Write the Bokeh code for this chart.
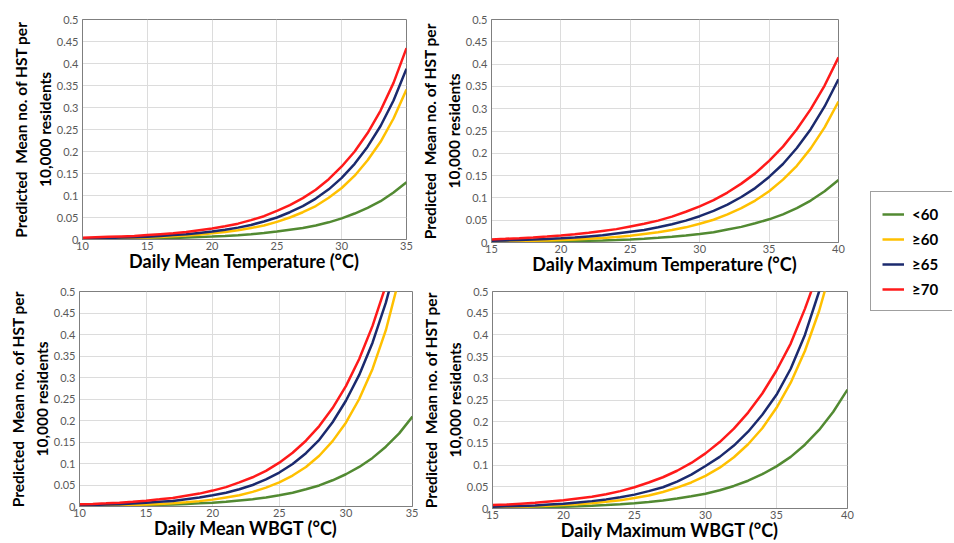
from bokeh.plotting import figure
from bokeh.layouts import row, column
from bokeh.models import Range1d, NumeralTickFormatter, FixedTicker, Legend, LegendItem
from bokeh.embed import file_html
from bokeh.resources import INLINE

# ---------------- data ----------------
series_names = ["<60", "\u226560", "\u226565", "\u226570"]
series_colors = ["#528A32", "#FFC000", "#1B2A6E", "#FF1A1A"]

y_ticks = [0, 0.05, 0.1, 0.15, 0.2, 0.25, 0.3, 0.35, 0.4, 0.45, 0.5]

# Panel 1: Daily Mean Temperature (10..35)
p1_x = [10, 11, 12, 13, 14, 15, 16, 17, 18, 19, 20, 21, 22, 23, 24, 25, 26, 27, 28, 29, 30, 31, 32, 33, 34, 35]
p1_xticks = [10, 15, 20, 25, 30, 35]
p1_lt60 = [0.0009, 0.0011, 0.0013, 0.0016, 0.002, 0.0024, 0.003, 0.0036, 0.0044, 0.0054, 0.0066, 0.008, 0.0098, 0.012, 0.0146, 0.018, 0.022, 0.026, 0.032, 0.039, 0.048, 0.059, 0.072, 0.087, 0.107, 0.130]
p1_ge60 = [0.0016, 0.002, 0.0025, 0.0031, 0.0039, 0.0048, 0.0059, 0.0073, 0.009, 0.011, 0.014, 0.017, 0.021, 0.026, 0.032, 0.040, 0.050, 0.062, 0.076, 0.095, 0.117, 0.145, 0.180, 0.222, 0.275, 0.341]
p1_ge65 = [0.0023, 0.0029, 0.0035, 0.0043, 0.0053, 0.0065, 0.008, 0.010, 0.012, 0.015, 0.018, 0.022, 0.027, 0.033, 0.041, 0.050, 0.062, 0.076, 0.093, 0.114, 0.140, 0.172, 0.211, 0.258, 0.316, 0.388]
p1_ge70 = [0.004, 0.005, 0.006, 0.007, 0.008, 0.010, 0.012, 0.014, 0.017, 0.021, 0.025, 0.030, 0.036, 0.044, 0.053, 0.065, 0.078, 0.094, 0.113, 0.137, 0.166, 0.200, 0.242, 0.293, 0.356, 0.435]

# Panel 2: Daily Maximum Temperature (15..40)
p2_x = [15, 16, 17, 18, 19, 20, 21, 22, 23, 24, 25, 26, 27, 28, 29, 30, 31, 32, 33, 34, 35, 36, 37, 38, 39, 40]
p2_xticks = [15, 20, 25, 30, 35, 40]
p2_lt60 = [0.001, 0.0012, 0.0014, 0.0017, 0.0021, 0.0026, 0.0032, 0.0039, 0.0047, 0.0058, 0.007, 0.0086, 0.0105, 0.0128, 0.0157, 0.019, 0.023, 0.029, 0.035, 0.043, 0.052, 0.063, 0.077, 0.094, 0.115, 0.140]
p2_ge60 = [0.002, 0.0025, 0.003, 0.0037, 0.0046, 0.0056, 0.0068, 0.0084, 0.010, 0.0125, 0.015, 0.019, 0.023, 0.028, 0.034, 0.042, 0.051, 0.063, 0.077, 0.094, 0.115, 0.141, 0.172, 0.211, 0.258, 0.316]
p2_ge65 = [0.0038, 0.0046, 0.0055, 0.0066, 0.0079, 0.0095, 0.0114, 0.0137, 0.016, 0.020, 0.024, 0.028, 0.034, 0.041, 0.049, 0.059, 0.071, 0.085, 0.102, 0.122, 0.147, 0.176, 0.212, 0.254, 0.305, 0.366]
p2_ge70 = [0.007, 0.0082, 0.0097, 0.0114, 0.0134, 0.0158, 0.0186, 0.022, 0.026, 0.030, 0.036, 0.042, 0.049, 0.058, 0.069, 0.081, 0.095, 0.112, 0.132, 0.155, 0.183, 0.215, 0.254, 0.299, 0.352, 0.415]

# Panel 3: Daily Mean WBGT (10..35)
p3_x = [10, 11, 12, 13, 14, 15, 16, 17, 18, 19, 20, 21, 22, 23, 24, 25, 26, 27, 28, 29, 30, 31, 32, 33, 34, 35]
p3_xticks = [10, 15, 20, 25, 30, 35]
p3_lt60 = [0.0011, 0.0014, 0.0017, 0.0021, 0.0026, 0.0032, 0.004, 0.0049, 0.006, 0.0074, 0.009, 0.011, 0.014, 0.017, 0.021, 0.026, 0.032, 0.040, 0.049, 0.061, 0.075, 0.092, 0.113, 0.139, 0.170, 0.209]
p3_ge60 = [0.0013, 0.0017, 0.0022, 0.0028, 0.0036, 0.0046, 0.0059, 0.0076, 0.0097, 0.0125, 0.016, 0.021, 0.026, 0.034, 0.044, 0.056, 0.072, 0.092, 0.118, 0.152, 0.195, 0.25, 0.32, 0.41, 0.53, 0.68]
p3_ge65 = [0.0028, 0.0035, 0.0044, 0.0055, 0.0069, 0.0086, 0.011, 0.013, 0.017, 0.021, 0.026, 0.032, 0.040, 0.050, 0.063, 0.079, 0.099, 0.124, 0.155, 0.196, 0.246, 0.306, 0.381, 0.474, 0.59, 0.73]
p3_ge70 = [0.005, 0.006, 0.0074, 0.009, 0.011, 0.0136, 0.0166, 0.020, 0.025, 0.030, 0.037, 0.045, 0.056, 0.068, 0.083, 0.102, 0.125, 0.153, 0.187, 0.229, 0.28, 0.343, 0.42, 0.514, 0.63, 0.77]

# Panel 4: Daily Maximum WBGT (15..40)
p4_x = [15, 16, 17, 18, 19, 20, 21, 22, 23, 24, 25, 26, 27, 28, 29, 30, 31, 32, 33, 34, 35, 36, 37, 38, 39, 40]
p4_xticks = [15, 20, 25, 30, 35, 40]
p4_lt60 = [0.0015, 0.0019, 0.0023, 0.0028, 0.0035, 0.0043, 0.0053, 0.0065, 0.008, 0.0099, 0.012, 0.015, 0.0185, 0.023, 0.028, 0.034, 0.042, 0.052, 0.064, 0.079, 0.097, 0.119, 0.147, 0.181, 0.223, 0.274]
p4_ge60 = [0.0025, 0.0032, 0.004, 0.005, 0.0062, 0.0078, 0.0097, 0.0122, 0.0153, 0.019, 0.024, 0.030, 0.038, 0.048, 0.060, 0.075, 0.094, 0.118, 0.148, 0.185, 0.232, 0.29, 0.363, 0.455, 0.57, 0.71]
p4_ge65 = [0.004, 0.005, 0.006, 0.007, 0.009, 0.011, 0.014, 0.017, 0.021, 0.026, 0.032, 0.040, 0.049, 0.062, 0.078, 0.098, 0.119, 0.145, 0.177, 0.216, 0.262, 0.322, 0.400, 0.50, 0.62, 0.77]
p4_ge70 = [0.008, 0.009, 0.011, 0.013, 0.016, 0.019, 0.023, 0.027, 0.033, 0.040, 0.049, 0.060, 0.072, 0.087, 0.105, 0.127, 0.153, 0.184, 0.221, 0.265, 0.318, 0.38, 0.46, 0.55, 0.66, 0.79]

y_label = "Predicted\u00a0 Mean no. of HST per\n10,000 residents"
x_labels = ["Daily Mean Temperature (\u00b0C)", "Daily Maximum Temperature (\u00b0C)",
            "Daily Mean WBGT (\u00b0C)", "Daily Maximum WBGT (\u00b0C)"]

FONT = "Lato"


def make_panel(xs, ys_list, xticks, xlabel, fw, fh, bl, br, bt, bb):
    p = figure(frame_width=fw, frame_height=fh,
               x_range=Range1d(xticks[0], xticks[-1]), y_range=Range1d(0, 0.5),
               output_backend="svg", toolbar_location=None,
               min_border_left=bl, min_border_right=br,
               min_border_top=bt, min_border_bottom=bb)
    p.outline_line_color = "#7f7f7f"
    p.outline_line_width = 1
    p.background_fill_color = "white"
    p.border_fill_color = "white"

    p.xaxis.ticker = FixedTicker(ticks=xticks)
    p.yaxis.ticker = FixedTicker(ticks=y_ticks)
    p.xgrid.ticker = FixedTicker(ticks=xticks)
    p.ygrid.ticker = FixedTicker(ticks=y_ticks)
    p.grid.grid_line_color = "#dcdcdc"
    p.grid.grid_line_width = 1

    p.yaxis.formatter = NumeralTickFormatter(format="0.[00]")
    for ax in (p.xaxis, p.yaxis):
        ax.axis_line_color = "#7f7f7f"
        ax.major_tick_line_color = None
        ax.minor_tick_line_color = None
        ax.major_tick_out = 0
        ax.major_tick_in = 0
        ax.major_label_text_font = FONT
        ax.major_label_text_font_size = "11px"
        ax.major_label_text_color = "#595959"
        ax.axis_label_text_font = FONT
        ax.axis_label_text_font_style = "bold"
        ax.axis_label_text_color = "black"
    p.xaxis.major_label_standoff = 2
    p.yaxis.major_label_standoff = 4
    p.xaxis.axis_label = xlabel
    p.xaxis.axis_label_text_font_size = "18px"
    p.xaxis.axis_label_standoff = -3
    p.yaxis.axis_label = y_label
    p.yaxis.axis_label_text_font_size = "15.5px"
    p.yaxis.axis_label_text_line_height = 1.3
    p.yaxis.axis_label_standoff = 0

    for ys, col in zip(ys_list, series_colors):
        p.line(xs, ys, line_color=col, line_width=2.5)
    return p


p1 = make_panel(p1_x, [p1_lt60, p1_ge60, p1_ge65, p1_ge70], p1_xticks, x_labels[0],
                fw=324, fh=220, bl=82, br=10, bt=19, bb=36)
p2 = make_panel(p2_x, [p2_lt60, p2_ge60, p2_ge65, p2_ge70], p2_xticks, x_labels[1],
                fw=347, fh=223, bl=75, br=9, bt=16, bb=36)
p3 = make_panel(p3_x, [p3_lt60, p3_ge60, p3_ge65, p3_ge70], p3_xticks, x_labels[2],
                fw=333, fh=215, bl=79, br=6, bt=16, bb=36)
p4 = make_panel(p4_x, [p4_lt60, p4_ge60, p4_ge65, p4_ge70], p4_xticks, x_labels[3],
                fw=355, fh=217, bl=74, br=8, bt=14, bb=36)

# legend panel
lf = figure(width=97, height=542, output_backend="svg", toolbar_location=None,
            x_range=Range1d(0, 1), y_range=Range1d(0, 1),
            x_axis_location=None, y_axis_location=None, min_border=0)
lf.grid.visible = False
lf.outline_line_color = None
items = []
for name, col in zip(series_names, series_colors):
    r = lf.line([-5, -4], [-5, -4], line_color=col, line_width=2.5)
    items.append(LegendItem(label=name, renderers=[r]))
leg = Legend(items=items, location=(15, 231), orientation="vertical",
             label_text_font=FONT, label_text_font_style="bold", label_text_font_size="15px",
             label_text_color="black", glyph_width=22, glyph_height=20, label_height=21,
             label_width=30, label_standoff=8, spacing=4, padding=11, margin=0,
             border_line_color="#404040", border_line_width=1.3,
             background_fill_color="white", background_fill_alpha=1.0)
lf.add_layout(leg)

grid = column(row(p1, p2), row(p3, p4))
layout = row(grid, lf)

open("out.html", "w").write(file_html(layout, INLINE))
